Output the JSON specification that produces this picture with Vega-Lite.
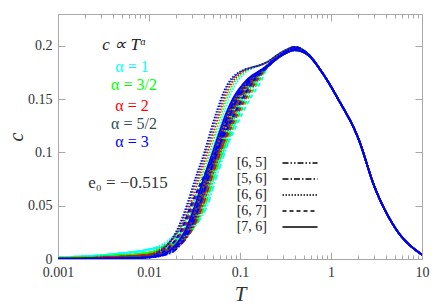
{
"$schema":"https://vega.github.io/schema/vega-lite/v6.json",
"width":364,"height":245,"autosize":"none",
"padding":{"left":58,"top":14,"right":14,"bottom":47},
"background":"white",
"config":{"view":{"stroke":"#a8a8a8","strokeWidth":1},"font":"Liberation Serif"},
"datasets":{"curves":[
{"T":0.001,"c":0.0015,"a":"1","n":"65"},{"T":0.004,"c":0.0045,"a":"1","n":"65"},{"T":0.01,"c":0.009,"a":"1","n":"65"},
{"T":0.0194,"c":0.015,"a":"1","n":"65"},{"T":0.02586,"c":0.024,"a":"1","n":"65"},{"T":0.03362,"c":0.036,"a":"1","n":"65"},{"T":0.04138,"c":0.05,"a":"1","n":"65"},{"T":0.05172,"c":0.076,"a":"1","n":"65"},{"T":0.06465,"c":0.1,"a":"1","n":"65"},{"T":0.07758,"c":0.12,"a":"1","n":"65"},{"T":0.09051,"c":0.136,"a":"1","n":"65"},{"T":0.1073,"c":0.15,"a":"1","n":"65"},{"T":0.1422,"c":0.165,"a":"1","n":"65"},
{"T":0.2,"c":0.182,"a":"1","n":"65"},{"T":0.3,"c":0.193,"a":"1","n":"65"},{"T":0.4,"c":0.198,"a":"1","n":"65"},{"T":0.55,"c":0.193,"a":"1","n":"65"},
{"T":0.8,"c":0.175,"a":"1","n":"65"},{"T":1.2,"c":0.15,"a":"1","n":"65"},{"T":2,"c":0.113,"a":"1","n":"65"},{"T":3,"c":0.068,"a":"1","n":"65"},{"T":5,"c":0.03,"a":"1","n":"65"},{"T":10,"c":0.004,"a":"1","n":"65"},

{"T":0.001,"c":0.0015,"a":"1","n":"56"},{"T":0.004,"c":0.0045,"a":"1","n":"56"},{"T":0.01,"c":0.009,"a":"1","n":"56"},
{"T":0.02049,"c":0.015,"a":"1","n":"56"},{"T":0.02732,"c":0.024,"a":"1","n":"56"},{"T":0.03552,"c":0.036,"a":"1","n":"56"},{"T":0.04371,"c":0.05,"a":"1","n":"56"},{"T":0.05464,"c":0.076,"a":"1","n":"56"},{"T":0.0683,"c":0.1,"a":"1","n":"56"},{"T":0.08196,"c":0.12,"a":"1","n":"56"},{"T":0.09562,"c":0.136,"a":"1","n":"56"},{"T":0.1134,"c":0.15,"a":"1","n":"56"},{"T":0.1503,"c":0.165,"a":"1","n":"56"},
{"T":0.2,"c":0.181,"a":"1","n":"56"},{"T":0.3,"c":0.193,"a":"1","n":"56"},{"T":0.4,"c":0.197,"a":"1","n":"56"},{"T":0.55,"c":0.192,"a":"1","n":"56"},
{"T":0.8,"c":0.175,"a":"1","n":"56"},{"T":1.2,"c":0.15,"a":"1","n":"56"},{"T":2,"c":0.113,"a":"1","n":"56"},{"T":3,"c":0.068,"a":"1","n":"56"},{"T":5,"c":0.03,"a":"1","n":"56"},{"T":10,"c":0.004,"a":"1","n":"56"},

{"T":0.001,"c":0.0015,"a":"1","n":"66"},{"T":0.004,"c":0.0045,"a":"1","n":"66"},{"T":0.01,"c":0.009,"a":"1","n":"66"},
{"T":0.01482,"c":0.015,"a":"1","n":"66"},{"T":0.01976,"c":0.024,"a":"1","n":"66"},{"T":0.02569,"c":0.036,"a":"1","n":"66"},{"T":0.03162,"c":0.05,"a":"1","n":"66"},{"T":0.03952,"c":0.076,"a":"1","n":"66"},{"T":0.0494,"c":0.1,"a":"1","n":"66"},{"T":0.05928,"c":0.123,"a":"1","n":"66"},{"T":0.06916,"c":0.141,"a":"1","n":"66"},{"T":0.082,"c":0.158,"a":"1","n":"66"},{"T":0.1087,"c":0.173,"a":"1","n":"66"},
{"T":0.2,"c":0.185,"a":"1","n":"66"},{"T":0.3,"c":0.195,"a":"1","n":"66"},{"T":0.4,"c":0.199,"a":"1","n":"66"},{"T":0.55,"c":0.193,"a":"1","n":"66"},
{"T":0.8,"c":0.175,"a":"1","n":"66"},{"T":1.2,"c":0.15,"a":"1","n":"66"},{"T":2,"c":0.113,"a":"1","n":"66"},{"T":3,"c":0.068,"a":"1","n":"66"},{"T":5,"c":0.03,"a":"1","n":"66"},{"T":10,"c":0.004,"a":"1","n":"66"},

{"T":0.001,"c":0.0015,"a":"1","n":"67"},{"T":0.004,"c":0.0045,"a":"1","n":"67"},{"T":0.01,"c":0.009,"a":"1","n":"67"},
{"T":0.01647,"c":0.015,"a":"1","n":"67"},{"T":0.02196,"c":0.024,"a":"1","n":"67"},{"T":0.02855,"c":0.036,"a":"1","n":"67"},{"T":0.03514,"c":0.05,"a":"1","n":"67"},{"T":0.04782,"c":0.076,"a":"1","n":"67"},{"T":0.06588,"c":0.1,"a":"1","n":"67"},{"T":0.08564,"c":0.12,"a":"1","n":"67"},{"T":0.105,"c":0.136,"a":"1","n":"67"},{"T":0.1286,"c":0.15,"a":"1","n":"67"},{"T":0.1704,"c":0.167,"a":"1","n":"67"},
{"T":0.2,"c":0.18,"a":"1","n":"67"},{"T":0.3,"c":0.193,"a":"1","n":"67"},{"T":0.4,"c":0.199,"a":"1","n":"67"},{"T":0.55,"c":0.193,"a":"1","n":"67"},
{"T":0.8,"c":0.175,"a":"1","n":"67"},{"T":1.2,"c":0.15,"a":"1","n":"67"},{"T":2,"c":0.113,"a":"1","n":"67"},{"T":3,"c":0.068,"a":"1","n":"67"},{"T":5,"c":0.03,"a":"1","n":"67"},{"T":10,"c":0.004,"a":"1","n":"67"},

{"T":0.001,"c":0.0015,"a":"1","n":"76"},{"T":0.004,"c":0.0045,"a":"1","n":"76"},{"T":0.01,"c":0.009,"a":"1","n":"76"},
{"T":0.0183,"c":0.015,"a":"1","n":"76"},{"T":0.0244,"c":0.024,"a":"1","n":"76"},{"T":0.03172,"c":0.036,"a":"1","n":"76"},{"T":0.03904,"c":0.05,"a":"1","n":"76"},{"T":0.0488,"c":0.076,"a":"1","n":"76"},{"T":0.061,"c":0.1,"a":"1","n":"76"},{"T":0.0732,"c":0.12,"a":"1","n":"76"},{"T":0.0854,"c":0.136,"a":"1","n":"76"},{"T":0.1013,"c":0.15,"a":"1","n":"76"},{"T":0.1342,"c":0.165,"a":"1","n":"76"},
{"T":0.2,"c":0.181,"a":"1","n":"76"},{"T":0.3,"c":0.192,"a":"1","n":"76"},{"T":0.4,"c":0.196,"a":"1","n":"76"},{"T":0.55,"c":0.192,"a":"1","n":"76"},
{"T":0.8,"c":0.175,"a":"1","n":"76"},{"T":1.2,"c":0.15,"a":"1","n":"76"},{"T":2,"c":0.113,"a":"1","n":"76"},{"T":3,"c":0.068,"a":"1","n":"76"},{"T":5,"c":0.03,"a":"1","n":"76"},{"T":10,"c":0.004,"a":"1","n":"76"},

{"T":0.001,"c":0.0008,"a":"3/2","n":"65"},{"T":0.004,"c":0.003,"a":"3/2","n":"65"},{"T":0.01,"c":0.006,"a":"3/2","n":"65"},
{"T":0.01829,"c":0.012,"a":"3/2","n":"65"},{"T":0.02438,"c":0.02,"a":"3/2","n":"65"},{"T":0.03169,"c":0.034,"a":"3/2","n":"65"},{"T":0.03901,"c":0.05,"a":"3/2","n":"65"},{"T":0.04876,"c":0.076,"a":"3/2","n":"65"},{"T":0.06095,"c":0.1,"a":"3/2","n":"65"},{"T":0.07314,"c":0.12,"a":"3/2","n":"65"},{"T":0.08533,"c":0.136,"a":"3/2","n":"65"},{"T":0.1012,"c":0.15,"a":"3/2","n":"65"},{"T":0.1341,"c":0.165,"a":"3/2","n":"65"},
{"T":0.2,"c":0.182,"a":"3/2","n":"65"},{"T":0.3,"c":0.193,"a":"3/2","n":"65"},{"T":0.4,"c":0.198,"a":"3/2","n":"65"},{"T":0.55,"c":0.193,"a":"3/2","n":"65"},
{"T":0.8,"c":0.175,"a":"3/2","n":"65"},{"T":1.2,"c":0.15,"a":"3/2","n":"65"},{"T":2,"c":0.113,"a":"3/2","n":"65"},{"T":3,"c":0.068,"a":"3/2","n":"65"},{"T":5,"c":0.03,"a":"3/2","n":"65"},{"T":10,"c":0.004,"a":"3/2","n":"65"},

{"T":0.001,"c":0.0008,"a":"3/2","n":"56"},{"T":0.004,"c":0.003,"a":"3/2","n":"56"},{"T":0.01,"c":0.006,"a":"3/2","n":"56"},
{"T":0.01932,"c":0.012,"a":"3/2","n":"56"},{"T":0.02576,"c":0.02,"a":"3/2","n":"56"},{"T":0.03349,"c":0.034,"a":"3/2","n":"56"},{"T":0.04122,"c":0.05,"a":"3/2","n":"56"},{"T":0.05152,"c":0.076,"a":"3/2","n":"56"},{"T":0.0644,"c":0.1,"a":"3/2","n":"56"},{"T":0.07728,"c":0.12,"a":"3/2","n":"56"},{"T":0.09016,"c":0.136,"a":"3/2","n":"56"},{"T":0.1069,"c":0.15,"a":"3/2","n":"56"},{"T":0.1417,"c":0.165,"a":"3/2","n":"56"},
{"T":0.2,"c":0.181,"a":"3/2","n":"56"},{"T":0.3,"c":0.193,"a":"3/2","n":"56"},{"T":0.4,"c":0.197,"a":"3/2","n":"56"},{"T":0.55,"c":0.192,"a":"3/2","n":"56"},
{"T":0.8,"c":0.175,"a":"3/2","n":"56"},{"T":1.2,"c":0.15,"a":"3/2","n":"56"},{"T":2,"c":0.113,"a":"3/2","n":"56"},{"T":3,"c":0.068,"a":"3/2","n":"56"},{"T":5,"c":0.03,"a":"3/2","n":"56"},{"T":10,"c":0.004,"a":"3/2","n":"56"},

{"T":0.001,"c":0.0008,"a":"3/2","n":"66"},{"T":0.004,"c":0.003,"a":"3/2","n":"66"},{"T":0.01,"c":0.006,"a":"3/2","n":"66"},
{"T":0.01398,"c":0.012,"a":"3/2","n":"66"},{"T":0.01864,"c":0.02,"a":"3/2","n":"66"},{"T":0.02423,"c":0.034,"a":"3/2","n":"66"},{"T":0.02982,"c":0.05,"a":"3/2","n":"66"},{"T":0.03728,"c":0.076,"a":"3/2","n":"66"},{"T":0.0466,"c":0.1,"a":"3/2","n":"66"},{"T":0.05592,"c":0.123,"a":"3/2","n":"66"},{"T":0.06524,"c":0.141,"a":"3/2","n":"66"},{"T":0.07736,"c":0.158,"a":"3/2","n":"66"},{"T":0.1025,"c":0.173,"a":"3/2","n":"66"},
{"T":0.2,"c":0.185,"a":"3/2","n":"66"},{"T":0.3,"c":0.195,"a":"3/2","n":"66"},{"T":0.4,"c":0.199,"a":"3/2","n":"66"},{"T":0.55,"c":0.193,"a":"3/2","n":"66"},
{"T":0.8,"c":0.175,"a":"3/2","n":"66"},{"T":1.2,"c":0.15,"a":"3/2","n":"66"},{"T":2,"c":0.113,"a":"3/2","n":"66"},{"T":3,"c":0.068,"a":"3/2","n":"66"},{"T":5,"c":0.03,"a":"3/2","n":"66"},{"T":10,"c":0.004,"a":"3/2","n":"66"},

{"T":0.001,"c":0.0008,"a":"3/2","n":"67"},{"T":0.004,"c":0.003,"a":"3/2","n":"67"},{"T":0.01,"c":0.006,"a":"3/2","n":"67"},
{"T":0.01553,"c":0.012,"a":"3/2","n":"67"},{"T":0.0207,"c":0.02,"a":"3/2","n":"67"},{"T":0.02691,"c":0.034,"a":"3/2","n":"67"},{"T":0.03312,"c":0.05,"a":"3/2","n":"67"},{"T":0.04508,"c":0.076,"a":"3/2","n":"67"},{"T":0.0621,"c":0.1,"a":"3/2","n":"67"},{"T":0.08073,"c":0.12,"a":"3/2","n":"67"},{"T":0.09902,"c":0.136,"a":"3/2","n":"67"},{"T":0.1212,"c":0.15,"a":"3/2","n":"67"},{"T":0.1607,"c":0.167,"a":"3/2","n":"67"},
{"T":0.2,"c":0.18,"a":"3/2","n":"67"},{"T":0.3,"c":0.193,"a":"3/2","n":"67"},{"T":0.4,"c":0.199,"a":"3/2","n":"67"},{"T":0.55,"c":0.193,"a":"3/2","n":"67"},
{"T":0.8,"c":0.175,"a":"3/2","n":"67"},{"T":1.2,"c":0.15,"a":"3/2","n":"67"},{"T":2,"c":0.113,"a":"3/2","n":"67"},{"T":3,"c":0.068,"a":"3/2","n":"67"},{"T":5,"c":0.03,"a":"3/2","n":"67"},{"T":10,"c":0.004,"a":"3/2","n":"67"},

{"T":0.001,"c":0.0008,"a":"3/2","n":"76"},{"T":0.004,"c":0.003,"a":"3/2","n":"76"},{"T":0.01,"c":0.006,"a":"3/2","n":"76"},
{"T":0.01725,"c":0.012,"a":"3/2","n":"76"},{"T":0.023,"c":0.02,"a":"3/2","n":"76"},{"T":0.0299,"c":0.034,"a":"3/2","n":"76"},{"T":0.0368,"c":0.05,"a":"3/2","n":"76"},{"T":0.046,"c":0.076,"a":"3/2","n":"76"},{"T":0.0575,"c":0.1,"a":"3/2","n":"76"},{"T":0.069,"c":0.12,"a":"3/2","n":"76"},{"T":0.0805,"c":0.136,"a":"3/2","n":"76"},{"T":0.09545,"c":0.15,"a":"3/2","n":"76"},{"T":0.1265,"c":0.165,"a":"3/2","n":"76"},
{"T":0.2,"c":0.181,"a":"3/2","n":"76"},{"T":0.3,"c":0.192,"a":"3/2","n":"76"},{"T":0.4,"c":0.196,"a":"3/2","n":"76"},{"T":0.55,"c":0.192,"a":"3/2","n":"76"},
{"T":0.8,"c":0.175,"a":"3/2","n":"76"},{"T":1.2,"c":0.15,"a":"3/2","n":"76"},{"T":2,"c":0.113,"a":"3/2","n":"76"},{"T":3,"c":0.068,"a":"3/2","n":"76"},{"T":5,"c":0.03,"a":"3/2","n":"76"},{"T":10,"c":0.004,"a":"3/2","n":"76"},

{"T":0.001,"c":0.0004,"a":"2","n":"65"},{"T":0.004,"c":0.0018,"a":"2","n":"65"},{"T":0.01,"c":0.004,"a":"2","n":"65"},
{"T":0.01733,"c":0.009,"a":"2","n":"65"},{"T":0.0231,"c":0.017,"a":"2","n":"65"},{"T":0.03003,"c":0.032,"a":"2","n":"65"},{"T":0.03696,"c":0.05,"a":"2","n":"65"},{"T":0.0462,"c":0.076,"a":"2","n":"65"},{"T":0.05775,"c":0.1,"a":"2","n":"65"},{"T":0.0693,"c":0.12,"a":"2","n":"65"},{"T":0.08085,"c":0.136,"a":"2","n":"65"},{"T":0.09587,"c":0.15,"a":"2","n":"65"},{"T":0.1271,"c":0.165,"a":"2","n":"65"},
{"T":0.2,"c":0.182,"a":"2","n":"65"},{"T":0.3,"c":0.193,"a":"2","n":"65"},{"T":0.4,"c":0.198,"a":"2","n":"65"},{"T":0.55,"c":0.193,"a":"2","n":"65"},
{"T":0.8,"c":0.175,"a":"2","n":"65"},{"T":1.2,"c":0.15,"a":"2","n":"65"},{"T":2,"c":0.113,"a":"2","n":"65"},{"T":3,"c":0.068,"a":"2","n":"65"},{"T":5,"c":0.03,"a":"2","n":"65"},{"T":10,"c":0.004,"a":"2","n":"65"},

{"T":0.001,"c":0.0004,"a":"2","n":"56"},{"T":0.004,"c":0.0018,"a":"2","n":"56"},{"T":0.01,"c":0.004,"a":"2","n":"56"},
{"T":0.01832,"c":0.009,"a":"2","n":"56"},{"T":0.02442,"c":0.017,"a":"2","n":"56"},{"T":0.03175,"c":0.032,"a":"2","n":"56"},{"T":0.03907,"c":0.05,"a":"2","n":"56"},{"T":0.04884,"c":0.076,"a":"2","n":"56"},{"T":0.06105,"c":0.1,"a":"2","n":"56"},{"T":0.07326,"c":0.12,"a":"2","n":"56"},{"T":0.08547,"c":0.136,"a":"2","n":"56"},{"T":0.1013,"c":0.15,"a":"2","n":"56"},{"T":0.1343,"c":0.165,"a":"2","n":"56"},
{"T":0.2,"c":0.181,"a":"2","n":"56"},{"T":0.3,"c":0.193,"a":"2","n":"56"},{"T":0.4,"c":0.197,"a":"2","n":"56"},{"T":0.55,"c":0.192,"a":"2","n":"56"},
{"T":0.8,"c":0.175,"a":"2","n":"56"},{"T":1.2,"c":0.15,"a":"2","n":"56"},{"T":2,"c":0.113,"a":"2","n":"56"},{"T":3,"c":0.068,"a":"2","n":"56"},{"T":5,"c":0.03,"a":"2","n":"56"},{"T":10,"c":0.004,"a":"2","n":"56"},

{"T":0.001,"c":0.0004,"a":"2","n":"66"},{"T":0.004,"c":0.0018,"a":"2","n":"66"},{"T":0.01,"c":0.004,"a":"2","n":"66"},
{"T":0.01325,"c":0.009,"a":"2","n":"66"},{"T":0.01766,"c":0.017,"a":"2","n":"66"},{"T":0.02296,"c":0.032,"a":"2","n":"66"},{"T":0.02826,"c":0.05,"a":"2","n":"66"},{"T":0.03532,"c":0.076,"a":"2","n":"66"},{"T":0.04415,"c":0.1,"a":"2","n":"66"},{"T":0.05298,"c":0.123,"a":"2","n":"66"},{"T":0.06181,"c":0.141,"a":"2","n":"66"},{"T":0.07329,"c":0.158,"a":"2","n":"66"},{"T":0.09713,"c":0.173,"a":"2","n":"66"},
{"T":0.2,"c":0.185,"a":"2","n":"66"},{"T":0.3,"c":0.195,"a":"2","n":"66"},{"T":0.4,"c":0.199,"a":"2","n":"66"},{"T":0.55,"c":0.193,"a":"2","n":"66"},
{"T":0.8,"c":0.175,"a":"2","n":"66"},{"T":1.2,"c":0.15,"a":"2","n":"66"},{"T":2,"c":0.113,"a":"2","n":"66"},{"T":3,"c":0.068,"a":"2","n":"66"},{"T":5,"c":0.03,"a":"2","n":"66"},{"T":10,"c":0.004,"a":"2","n":"66"},

{"T":0.001,"c":0.0004,"a":"2","n":"67"},{"T":0.004,"c":0.0018,"a":"2","n":"67"},{"T":0.01,"c":0.004,"a":"2","n":"67"},
{"T":0.01472,"c":0.009,"a":"2","n":"67"},{"T":0.01962,"c":0.017,"a":"2","n":"67"},{"T":0.02551,"c":0.032,"a":"2","n":"67"},{"T":0.03139,"c":0.05,"a":"2","n":"67"},{"T":0.04273,"c":0.076,"a":"2","n":"67"},{"T":0.05886,"c":0.1,"a":"2","n":"67"},{"T":0.07652,"c":0.12,"a":"2","n":"67"},{"T":0.09385,"c":0.136,"a":"2","n":"67"},{"T":0.1149,"c":0.15,"a":"2","n":"67"},{"T":0.1523,"c":0.167,"a":"2","n":"67"},
{"T":0.2,"c":0.18,"a":"2","n":"67"},{"T":0.3,"c":0.193,"a":"2","n":"67"},{"T":0.4,"c":0.199,"a":"2","n":"67"},{"T":0.55,"c":0.193,"a":"2","n":"67"},
{"T":0.8,"c":0.175,"a":"2","n":"67"},{"T":1.2,"c":0.15,"a":"2","n":"67"},{"T":2,"c":0.113,"a":"2","n":"67"},{"T":3,"c":0.068,"a":"2","n":"67"},{"T":5,"c":0.03,"a":"2","n":"67"},{"T":10,"c":0.004,"a":"2","n":"67"},

{"T":0.001,"c":0.0004,"a":"2","n":"76"},{"T":0.004,"c":0.0018,"a":"2","n":"76"},{"T":0.01,"c":0.004,"a":"2","n":"76"},
{"T":0.01635,"c":0.009,"a":"2","n":"76"},{"T":0.0218,"c":0.017,"a":"2","n":"76"},{"T":0.02834,"c":0.032,"a":"2","n":"76"},{"T":0.03488,"c":0.05,"a":"2","n":"76"},{"T":0.0436,"c":0.076,"a":"2","n":"76"},{"T":0.0545,"c":0.1,"a":"2","n":"76"},{"T":0.0654,"c":0.12,"a":"2","n":"76"},{"T":0.0763,"c":0.136,"a":"2","n":"76"},{"T":0.09047,"c":0.15,"a":"2","n":"76"},{"T":0.1199,"c":0.165,"a":"2","n":"76"},
{"T":0.2,"c":0.181,"a":"2","n":"76"},{"T":0.3,"c":0.192,"a":"2","n":"76"},{"T":0.4,"c":0.196,"a":"2","n":"76"},{"T":0.55,"c":0.192,"a":"2","n":"76"},
{"T":0.8,"c":0.175,"a":"2","n":"76"},{"T":1.2,"c":0.15,"a":"2","n":"76"},{"T":2,"c":0.113,"a":"2","n":"76"},{"T":3,"c":0.068,"a":"2","n":"76"},{"T":5,"c":0.03,"a":"2","n":"76"},{"T":10,"c":0.004,"a":"2","n":"76"},

{"T":0.001,"c":0.0002,"a":"5/2","n":"65"},{"T":0.004,"c":0.001,"a":"5/2","n":"65"},{"T":0.01,"c":0.0028,"a":"5/2","n":"65"},
{"T":0.01653,"c":0.007,"a":"5/2","n":"65"},{"T":0.02204,"c":0.0155,"a":"5/2","n":"65"},{"T":0.02865,"c":0.031,"a":"5/2","n":"65"},{"T":0.03526,"c":0.05,"a":"5/2","n":"65"},{"T":0.04408,"c":0.076,"a":"5/2","n":"65"},{"T":0.0551,"c":0.1,"a":"5/2","n":"65"},{"T":0.06612,"c":0.12,"a":"5/2","n":"65"},{"T":0.07714,"c":0.136,"a":"5/2","n":"65"},{"T":0.09147,"c":0.15,"a":"5/2","n":"65"},{"T":0.1212,"c":0.165,"a":"5/2","n":"65"},
{"T":0.2,"c":0.182,"a":"5/2","n":"65"},{"T":0.3,"c":0.193,"a":"5/2","n":"65"},{"T":0.4,"c":0.198,"a":"5/2","n":"65"},{"T":0.55,"c":0.193,"a":"5/2","n":"65"},
{"T":0.8,"c":0.175,"a":"5/2","n":"65"},{"T":1.2,"c":0.15,"a":"5/2","n":"65"},{"T":2,"c":0.113,"a":"5/2","n":"65"},{"T":3,"c":0.068,"a":"5/2","n":"65"},{"T":5,"c":0.03,"a":"5/2","n":"65"},{"T":10,"c":0.004,"a":"5/2","n":"65"},

{"T":0.001,"c":0.0002,"a":"5/2","n":"56"},{"T":0.004,"c":0.001,"a":"5/2","n":"56"},{"T":0.01,"c":0.0028,"a":"5/2","n":"56"},
{"T":0.01748,"c":0.007,"a":"5/2","n":"56"},{"T":0.0233,"c":0.0155,"a":"5/2","n":"56"},{"T":0.03029,"c":0.031,"a":"5/2","n":"56"},{"T":0.03728,"c":0.05,"a":"5/2","n":"56"},{"T":0.0466,"c":0.076,"a":"5/2","n":"56"},{"T":0.05825,"c":0.1,"a":"5/2","n":"56"},{"T":0.0699,"c":0.12,"a":"5/2","n":"56"},{"T":0.08155,"c":0.136,"a":"5/2","n":"56"},{"T":0.0967,"c":0.15,"a":"5/2","n":"56"},{"T":0.1282,"c":0.165,"a":"5/2","n":"56"},
{"T":0.2,"c":0.181,"a":"5/2","n":"56"},{"T":0.3,"c":0.193,"a":"5/2","n":"56"},{"T":0.4,"c":0.197,"a":"5/2","n":"56"},{"T":0.55,"c":0.192,"a":"5/2","n":"56"},
{"T":0.8,"c":0.175,"a":"5/2","n":"56"},{"T":1.2,"c":0.15,"a":"5/2","n":"56"},{"T":2,"c":0.113,"a":"5/2","n":"56"},{"T":3,"c":0.068,"a":"5/2","n":"56"},{"T":5,"c":0.03,"a":"5/2","n":"56"},{"T":10,"c":0.004,"a":"5/2","n":"56"},

{"T":0.001,"c":0.0002,"a":"5/2","n":"66"},{"T":0.004,"c":0.001,"a":"5/2","n":"66"},{"T":0.01,"c":0.0028,"a":"5/2","n":"66"},
{"T":0.01263,"c":0.007,"a":"5/2","n":"66"},{"T":0.01684,"c":0.0155,"a":"5/2","n":"66"},{"T":0.02189,"c":0.031,"a":"5/2","n":"66"},{"T":0.02694,"c":0.05,"a":"5/2","n":"66"},{"T":0.03368,"c":0.076,"a":"5/2","n":"66"},{"T":0.0421,"c":0.1,"a":"5/2","n":"66"},{"T":0.05052,"c":0.123,"a":"5/2","n":"66"},{"T":0.05894,"c":0.141,"a":"5/2","n":"66"},{"T":0.06989,"c":0.158,"a":"5/2","n":"66"},{"T":0.09262,"c":0.173,"a":"5/2","n":"66"},
{"T":0.2,"c":0.185,"a":"5/2","n":"66"},{"T":0.3,"c":0.195,"a":"5/2","n":"66"},{"T":0.4,"c":0.199,"a":"5/2","n":"66"},{"T":0.55,"c":0.193,"a":"5/2","n":"66"},
{"T":0.8,"c":0.175,"a":"5/2","n":"66"},{"T":1.2,"c":0.15,"a":"5/2","n":"66"},{"T":2,"c":0.113,"a":"5/2","n":"66"},{"T":3,"c":0.068,"a":"5/2","n":"66"},{"T":5,"c":0.03,"a":"5/2","n":"66"},{"T":10,"c":0.004,"a":"5/2","n":"66"},

{"T":0.001,"c":0.0002,"a":"5/2","n":"67"},{"T":0.004,"c":0.001,"a":"5/2","n":"67"},{"T":0.01,"c":0.0028,"a":"5/2","n":"67"},
{"T":0.01404,"c":0.007,"a":"5/2","n":"67"},{"T":0.01872,"c":0.0155,"a":"5/2","n":"67"},{"T":0.02434,"c":0.031,"a":"5/2","n":"67"},{"T":0.02995,"c":0.05,"a":"5/2","n":"67"},{"T":0.04077,"c":0.076,"a":"5/2","n":"67"},{"T":0.05616,"c":0.1,"a":"5/2","n":"67"},{"T":0.07301,"c":0.12,"a":"5/2","n":"67"},{"T":0.08954,"c":0.136,"a":"5/2","n":"67"},{"T":0.1096,"c":0.15,"a":"5/2","n":"67"},{"T":0.1453,"c":0.167,"a":"5/2","n":"67"},
{"T":0.2,"c":0.18,"a":"5/2","n":"67"},{"T":0.3,"c":0.193,"a":"5/2","n":"67"},{"T":0.4,"c":0.199,"a":"5/2","n":"67"},{"T":0.55,"c":0.193,"a":"5/2","n":"67"},
{"T":0.8,"c":0.175,"a":"5/2","n":"67"},{"T":1.2,"c":0.15,"a":"5/2","n":"67"},{"T":2,"c":0.113,"a":"5/2","n":"67"},{"T":3,"c":0.068,"a":"5/2","n":"67"},{"T":5,"c":0.03,"a":"5/2","n":"67"},{"T":10,"c":0.004,"a":"5/2","n":"67"},

{"T":0.001,"c":0.0002,"a":"5/2","n":"76"},{"T":0.004,"c":0.001,"a":"5/2","n":"76"},{"T":0.01,"c":0.0028,"a":"5/2","n":"76"},
{"T":0.0156,"c":0.007,"a":"5/2","n":"76"},{"T":0.0208,"c":0.0155,"a":"5/2","n":"76"},{"T":0.02704,"c":0.031,"a":"5/2","n":"76"},{"T":0.03328,"c":0.05,"a":"5/2","n":"76"},{"T":0.0416,"c":0.076,"a":"5/2","n":"76"},{"T":0.052,"c":0.1,"a":"5/2","n":"76"},{"T":0.0624,"c":0.12,"a":"5/2","n":"76"},{"T":0.0728,"c":0.136,"a":"5/2","n":"76"},{"T":0.08632,"c":0.15,"a":"5/2","n":"76"},{"T":0.1144,"c":0.165,"a":"5/2","n":"76"},
{"T":0.2,"c":0.181,"a":"5/2","n":"76"},{"T":0.3,"c":0.192,"a":"5/2","n":"76"},{"T":0.4,"c":0.196,"a":"5/2","n":"76"},{"T":0.55,"c":0.192,"a":"5/2","n":"76"},
{"T":0.8,"c":0.175,"a":"5/2","n":"76"},{"T":1.2,"c":0.15,"a":"5/2","n":"76"},{"T":2,"c":0.113,"a":"5/2","n":"76"},{"T":3,"c":0.068,"a":"5/2","n":"76"},{"T":5,"c":0.03,"a":"5/2","n":"76"},{"T":10,"c":0.004,"a":"5/2","n":"76"},

{"T":0.001,"c":0.0001,"a":"3","n":"65"},{"T":0.004,"c":0.0005,"a":"3","n":"65"},{"T":0.01,"c":0.0015,"a":"3","n":"65"},
{"T":0.0159,"c":0.005,"a":"3","n":"65"},{"T":0.0212,"c":0.014,"a":"3","n":"65"},{"T":0.02756,"c":0.03,"a":"3","n":"65"},{"T":0.03392,"c":0.05,"a":"3","n":"65"},{"T":0.0424,"c":0.076,"a":"3","n":"65"},{"T":0.053,"c":0.1,"a":"3","n":"65"},{"T":0.0636,"c":0.12,"a":"3","n":"65"},{"T":0.0742,"c":0.136,"a":"3","n":"65"},{"T":0.08798,"c":0.15,"a":"3","n":"65"},{"T":0.1166,"c":0.165,"a":"3","n":"65"},
{"T":0.2,"c":0.182,"a":"3","n":"65"},{"T":0.3,"c":0.193,"a":"3","n":"65"},{"T":0.4,"c":0.198,"a":"3","n":"65"},{"T":0.55,"c":0.193,"a":"3","n":"65"},
{"T":0.8,"c":0.175,"a":"3","n":"65"},{"T":1.2,"c":0.15,"a":"3","n":"65"},{"T":2,"c":0.113,"a":"3","n":"65"},{"T":3,"c":0.068,"a":"3","n":"65"},{"T":5,"c":0.03,"a":"3","n":"65"},{"T":10,"c":0.004,"a":"3","n":"65"},

{"T":0.001,"c":0.0001,"a":"3","n":"56"},{"T":0.004,"c":0.0005,"a":"3","n":"56"},{"T":0.01,"c":0.0015,"a":"3","n":"56"},
{"T":0.0168,"c":0.005,"a":"3","n":"56"},{"T":0.0224,"c":0.014,"a":"3","n":"56"},{"T":0.02912,"c":0.03,"a":"3","n":"56"},{"T":0.03584,"c":0.05,"a":"3","n":"56"},{"T":0.0448,"c":0.076,"a":"3","n":"56"},{"T":0.056,"c":0.1,"a":"3","n":"56"},{"T":0.0672,"c":0.12,"a":"3","n":"56"},{"T":0.0784,"c":0.136,"a":"3","n":"56"},{"T":0.09296,"c":0.15,"a":"3","n":"56"},{"T":0.1232,"c":0.165,"a":"3","n":"56"},
{"T":0.2,"c":0.181,"a":"3","n":"56"},{"T":0.3,"c":0.193,"a":"3","n":"56"},{"T":0.4,"c":0.197,"a":"3","n":"56"},{"T":0.55,"c":0.192,"a":"3","n":"56"},
{"T":0.8,"c":0.175,"a":"3","n":"56"},{"T":1.2,"c":0.15,"a":"3","n":"56"},{"T":2,"c":0.113,"a":"3","n":"56"},{"T":3,"c":0.068,"a":"3","n":"56"},{"T":5,"c":0.03,"a":"3","n":"56"},{"T":10,"c":0.004,"a":"3","n":"56"},

{"T":0.001,"c":0.0001,"a":"3","n":"66"},{"T":0.004,"c":0.0005,"a":"3","n":"66"},{"T":0.01,"c":0.0015,"a":"3","n":"66"},
{"T":0.01215,"c":0.005,"a":"3","n":"66"},{"T":0.0162,"c":0.014,"a":"3","n":"66"},{"T":0.02106,"c":0.03,"a":"3","n":"66"},{"T":0.02592,"c":0.05,"a":"3","n":"66"},{"T":0.0324,"c":0.076,"a":"3","n":"66"},{"T":0.0405,"c":0.1,"a":"3","n":"66"},{"T":0.0486,"c":0.123,"a":"3","n":"66"},{"T":0.0567,"c":0.141,"a":"3","n":"66"},{"T":0.06723,"c":0.158,"a":"3","n":"66"},{"T":0.0891,"c":0.173,"a":"3","n":"66"},
{"T":0.2,"c":0.185,"a":"3","n":"66"},{"T":0.3,"c":0.195,"a":"3","n":"66"},{"T":0.4,"c":0.199,"a":"3","n":"66"},{"T":0.55,"c":0.193,"a":"3","n":"66"},
{"T":0.8,"c":0.175,"a":"3","n":"66"},{"T":1.2,"c":0.15,"a":"3","n":"66"},{"T":2,"c":0.113,"a":"3","n":"66"},{"T":3,"c":0.068,"a":"3","n":"66"},{"T":5,"c":0.03,"a":"3","n":"66"},{"T":10,"c":0.004,"a":"3","n":"66"},

{"T":0.001,"c":0.0001,"a":"3","n":"67"},{"T":0.004,"c":0.0005,"a":"3","n":"67"},{"T":0.01,"c":0.0015,"a":"3","n":"67"},
{"T":0.0135,"c":0.005,"a":"3","n":"67"},{"T":0.018,"c":0.014,"a":"3","n":"67"},{"T":0.0234,"c":0.03,"a":"3","n":"67"},{"T":0.0288,"c":0.05,"a":"3","n":"67"},{"T":0.0392,"c":0.076,"a":"3","n":"67"},{"T":0.054,"c":0.1,"a":"3","n":"67"},{"T":0.0702,"c":0.12,"a":"3","n":"67"},{"T":0.0861,"c":0.136,"a":"3","n":"67"},{"T":0.1054,"c":0.15,"a":"3","n":"67"},{"T":0.1397,"c":0.167,"a":"3","n":"67"},
{"T":0.2,"c":0.18,"a":"3","n":"67"},{"T":0.3,"c":0.193,"a":"3","n":"67"},{"T":0.4,"c":0.199,"a":"3","n":"67"},{"T":0.55,"c":0.193,"a":"3","n":"67"},
{"T":0.8,"c":0.175,"a":"3","n":"67"},{"T":1.2,"c":0.15,"a":"3","n":"67"},{"T":2,"c":0.113,"a":"3","n":"67"},{"T":3,"c":0.068,"a":"3","n":"67"},{"T":5,"c":0.03,"a":"3","n":"67"},{"T":10,"c":0.004,"a":"3","n":"67"},

{"T":0.001,"c":0.0001,"a":"3","n":"76"},{"T":0.004,"c":0.0005,"a":"3","n":"76"},{"T":0.01,"c":0.0015,"a":"3","n":"76"},
{"T":0.015,"c":0.005,"a":"3","n":"76"},{"T":0.02,"c":0.014,"a":"3","n":"76"},{"T":0.026,"c":0.03,"a":"3","n":"76"},{"T":0.032,"c":0.05,"a":"3","n":"76"},{"T":0.04,"c":0.076,"a":"3","n":"76"},{"T":0.05,"c":0.1,"a":"3","n":"76"},{"T":0.06,"c":0.12,"a":"3","n":"76"},{"T":0.07,"c":0.136,"a":"3","n":"76"},{"T":0.083,"c":0.15,"a":"3","n":"76"},{"T":0.11,"c":0.165,"a":"3","n":"76"},
{"T":0.2,"c":0.181,"a":"3","n":"76"},{"T":0.3,"c":0.192,"a":"3","n":"76"},{"T":0.4,"c":0.196,"a":"3","n":"76"},{"T":0.55,"c":0.192,"a":"3","n":"76"},
{"T":0.8,"c":0.175,"a":"3","n":"76"},{"T":1.2,"c":0.15,"a":"3","n":"76"},{"T":2,"c":0.113,"a":"3","n":"76"},{"T":3,"c":0.068,"a":"3","n":"76"},{"T":5,"c":0.03,"a":"3","n":"76"},{"T":10,"c":0.004,"a":"3","n":"76"}
]},
"layer":[
{"data":{"name":"curves"},
 "mark":{"type":"line","strokeWidth":1.8,"interpolate":"monotone","clip":true},
 "encoding":{
  "x":{"field":"T","type":"quantitative","scale":{"type":"log","domain":[0.001,10],"nice":false},
   "axis":{"orient":"bottom","values":[0.001,0.002,0.003,0.004,0.005,0.006,0.007,0.008,0.009,0.01,0.02,0.03,0.04,0.05,0.06,0.07,0.08,0.09,0.1,0.2,0.3,0.4,0.5,0.6,0.7,0.8,0.9,1,2,3,4,5,6,7,8,9,10],
    "format":"~g","labelExpr":"(datum.value == 0.001 || datum.value == 0.01 || datum.value == 0.1 || datum.value == 1 || datum.value == 10) ? datum.label : ''",
    "tickSize":{"condition":{"test":"datum.value == 0.001 || datum.value == 0.01 || datum.value == 0.1 || datum.value == 1 || datum.value == 10","value":-7},"value":-4},
    "tickColor":"#a8a8a8","domain":false,"grid":false,"labelFont":"Liberation Serif","labelFontSize":14,"labelColor":"#333","labelPadding":13,"labelFlush":false,"labelOverlap":false,
    "title":"T","titleFont":"Liberation Serif","titleFontStyle":"italic","titleFontSize":21,"titleFontWeight":"normal","titleColor":"#333","titlePadding":1}},
  "y":{"field":"c","type":"quantitative","scale":{"domain":[0,0.23],"nice":false,"zero":false},
   "axis":{"orient":"left","values":[0,0.05,0.1,0.15,0.2],"format":"~g","tickSize":-7,"tickColor":"#a8a8a8","domain":false,"grid":false,
    "labelFont":"Liberation Serif","labelFontSize":14,"labelColor":"#333","labelPadding":13,
    "title":"c","titleFont":"Liberation Serif","titleFontStyle":"italic","titleFontSize":20,"titleFontWeight":"normal","titleColor":"#333","titlePadding":1}},
  "color":{"field":"a","type":"nominal","scale":{"domain":["1","3/2","2","5/2","3"],"range":["#00ffff","#00ff00","#ff0000","#2f4f4f","#0000ff"]},"legend":null},
  "strokeDash":{"field":"n","type":"nominal","scale":{"domain":["65","56","66","67","76"],"range":[[6,2,1.5,2,1.5,2],[6,2,1.5,2],[1.5,1.5],[4,3],[1,0]]},
   "legend":{"orient":"none","legendX":234,"legendY":141,"title":null,"symbolType":"M-2.5,0L2.5,0","symbolSize":196,"symbolStrokeColor":"#000","symbolStrokeWidth":1.5,"symbolFillColor":"transparent",
    "labelExpr":"'[' + substring(datum.label,0,1) + ', ' + substring(datum.label,1,2) + ']'","labelAlign":"right","labelOffset":-41,"labelFont":"Liberation Serif","labelFontSize":14,"labelColor":"#222","rowPadding":1}}
 }},
{"data":{"values":[{}]},"mark":{"type":"text","text":"c ∝ Tᵅ","font":"Liberation Serif","fontSize":17,"fontStyle":"italic","color":"#222","baseline":"middle"},
 "encoding":{"x":{"datum":0.00538,"type":"quantitative","axis":{"orient":"top","values":[0.001,0.002,0.003,0.004,0.005,0.006,0.007,0.008,0.009,0.01,0.02,0.03,0.04,0.05,0.06,0.07,0.08,0.09,0.1,0.2,0.3,0.4,0.5,0.6,0.7,0.8,0.9,1,2,3,4,5,6,7,8,9,10],"labels":false,"title":null,"domain":false,"grid":false,"tickColor":"#a8a8a8",
   "tickSize":{"condition":{"test":"datum.value == 0.001 || datum.value == 0.01 || datum.value == 0.1 || datum.value == 1 || datum.value == 10","value":-7},"value":-4}}},
  "y":{"datum":0.2006,"type":"quantitative","axis":{"orient":"right","values":[0,0.05,0.1,0.15,0.2],"labels":false,"title":null,"domain":false,"grid":false,"tickColor":"#a8a8a8","tickSize":-7}}}},
{"data":{"values":[{}]},"mark":{"type":"text","text":"α = 1","font":"Liberation Serif","fontSize":16,"color":"#00ffff","baseline":"middle"},
 "encoding":{"x":{"datum":0.0065,"type":"quantitative","axis":null},"y":{"datum":0.1805,"type":"quantitative","axis":null}}},
{"data":{"values":[{}]},"mark":{"type":"text","text":"α = 3/2","font":"Liberation Serif","fontSize":16,"color":"#00ff00","baseline":"middle"},
 "encoding":{"x":{"datum":0.00684,"type":"quantitative","axis":null},"y":{"datum":0.163,"type":"quantitative","axis":null}}},
{"data":{"values":[{}]},"mark":{"type":"text","text":"α = 2","font":"Liberation Serif","fontSize":16,"color":"#ff0000","baseline":"middle"},
 "encoding":{"x":{"datum":0.0065,"type":"quantitative","axis":null},"y":{"datum":0.1434,"type":"quantitative","axis":null}}},
{"data":{"values":[{}]},"mark":{"type":"text","text":"α = 5/2","font":"Liberation Serif","fontSize":16,"color":"#2f4f4f","baseline":"middle"},
 "encoding":{"x":{"datum":0.00684,"type":"quantitative","axis":null},"y":{"datum":0.1268,"type":"quantitative","axis":null}}},
{"data":{"values":[{}]},"mark":{"type":"text","text":"α = 3","font":"Liberation Serif","fontSize":16,"color":"#0000ff","baseline":"middle"},
 "encoding":{"x":{"datum":0.0065,"type":"quantitative","axis":null},"y":{"datum":0.1098,"type":"quantitative","axis":null}}},
{"data":{"values":[{}]},"mark":{"type":"text","text":"e₀ = −0.515","font":"Liberation Serif","fontSize":17,"color":"#333","baseline":"middle"},
 "encoding":{"x":{"datum":0.00587,"type":"quantitative","axis":null},"y":{"datum":0.0712,"type":"quantitative","axis":null}}}
],
"resolve":{"axis":{"x":"independent","y":"independent"}}
}
